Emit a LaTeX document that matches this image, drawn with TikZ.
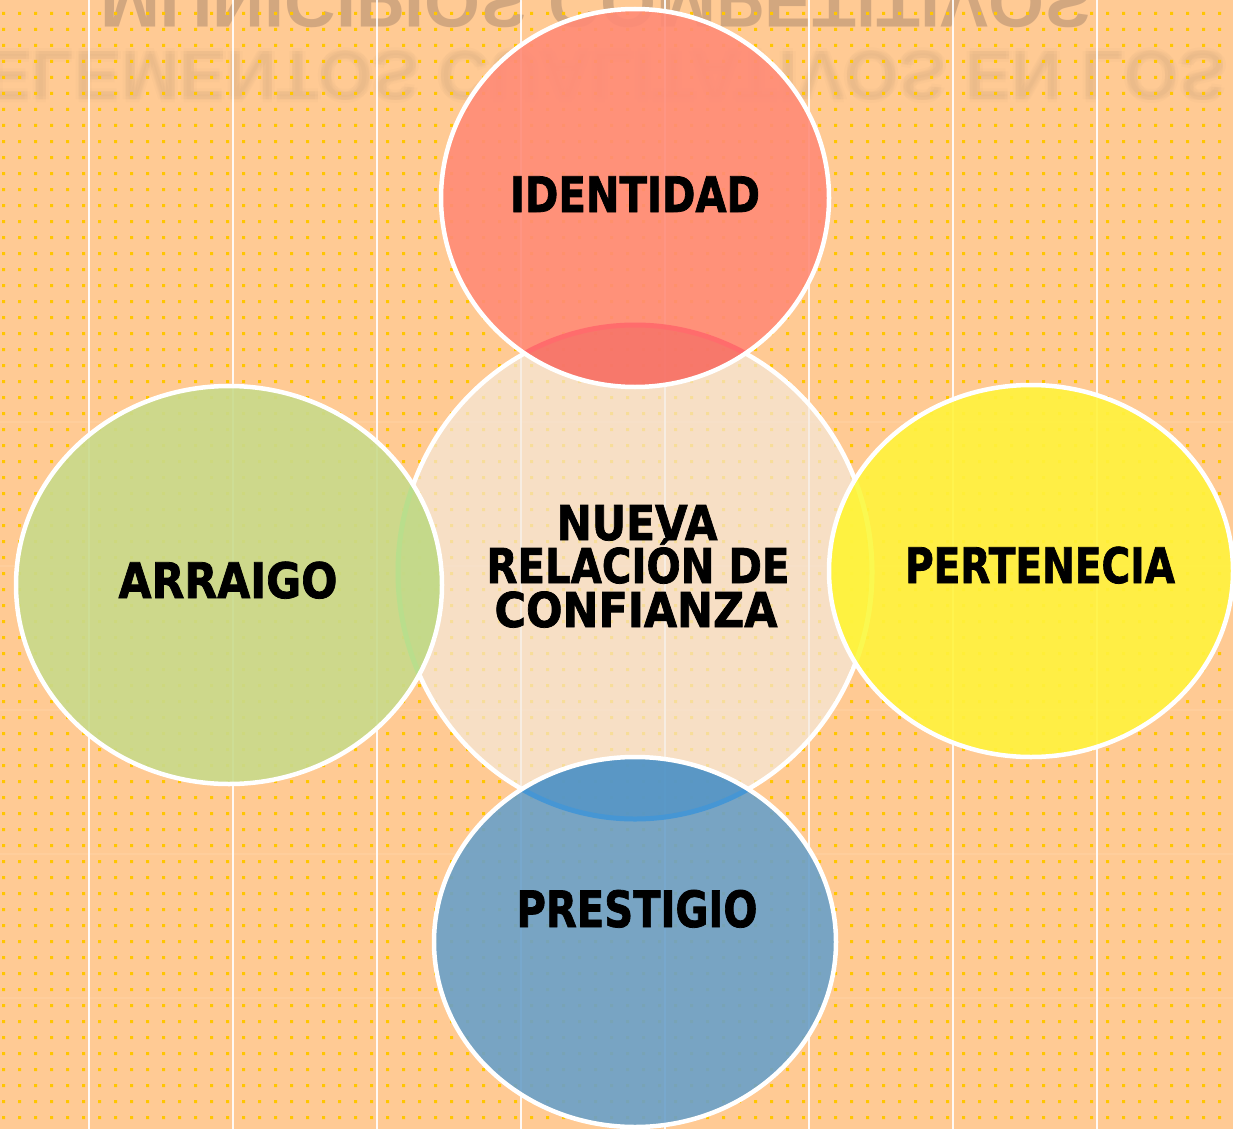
\documentclass[tikz,border=0pt]{standalone}
\usepackage{fontspec}
\newfontfamily\lblfont{DejaVu Sans}[BoldFeatures={FakeBold=1.6}]
\newfontfamily\wmfont{Liberation Sans}
\definecolor{bgc}{RGB}{255,202,148}
\definecolor{dotc}{RGB}{255,198,0}
\definecolor{wmc}{RGB}{150,120,100}
\definecolor{centc}{RGB}{244,232,219}
\definecolor{redc}{RGB}{255,139,119}
\definecolor{redov}{RGB}{247,109,98}
\definecolor{redarc}{RGB}{255,108,108}
\definecolor{greenc}{RGB}{200,218,139}
\definecolor{greenov}{RGB}{191,217,132}
\definecolor{greenarc}{RGB}{185,222,140}
\definecolor{yelc}{RGB}{255,243,61}
\definecolor{yelov}{RGB}{255,245,51}
\definecolor{yelarc}{RGB}{250,248,80}
\definecolor{bluec}{RGB}{106,160,201}
\definecolor{blueov}{RGB}{73,144,198}
\definecolor{bluearc}{RGB}{70,150,212}
\newcommand{\lbl}[3]{\resizebox{#1pt}{\height}{\fontsize{#2}{#2}\selectfont\lblfont\bfseries #3}}
\newcommand{\petal}[6]{%
  \begin{scope}
    \clip (#1) ellipse [x radius=#2, y radius=#3];
    \fill[#4, opacity=0.9, even odd rule] (#1) ellipse [x radius=#2, y radius=#3] (cC) ellipse [x radius=237, y radius=247];
    \fill[#5, opacity=0.9] (cC) ellipse [x radius=237, y radius=247];
    \draw[#6, line width=5] (cC) ellipse [x radius=237, y radius=247];
  \end{scope}
  \draw[white, line width=4.5] (#1) ellipse [x radius=#2, y radius=#3];}
\tikzset{
  lbl/.style={anchor=base, inner sep=0pt, text=black},
  wm/.style={anchor=base west, inner sep=0pt, text=wmc},
  vline/.style={white, line width=2, opacity=0.9},
  hline/.style={white, line width=1.5, opacity=0.08}
}
\begin{document}
\begin{tikzpicture}[x=1pt,y=-1pt]
\useasboundingbox (0,0) rectangle (1233,1129);
\clip (0,0) rectangle (1233,1129);
\fill[bgc] (0,0) rectangle (1233,1129);
% reflected title (watermark)
\node[wm, opacity=0.42] (wmA) at (100,-22) {\scalebox{1}[-1]{\fontsize{72}{72}\selectfont\wmfont\bfseries MUNICIPIOS COMPETITIVOS}};
\foreach \dx/\dy in {-3/0, 3/0, 0/-3, 0/3} {
  \node[wm, opacity=0.035] at (-15+\dx,52+\dy) {\scalebox{1}[-1]{\fontsize{70}{70}\selectfont\wmfont\bfseries ELEMENTOS CUALITATIVOS EN LOS}};
}
\node[wm, opacity=0.04] (wmB) at (-15,52) {\scalebox{1}[-1]{\fontsize{70}{70}\selectfont\wmfont\bfseries ELEMENTOS CUALITATIVOS EN LOS}};
% dot grid
\fill[dotc] foreach \i in {0,...,77} { foreach \j in {0,...,70} { (2+16*\i, 12+16*\j) rectangle ++(3,3) } };
% grid lines
\foreach \x in {89,233,...,1097} { \draw[vline] (\x,0) -- (\x,1129); }
\foreach \y in {422,566,...,1000} { \draw[hline] (0,\y) -- (1233,\y); }
% centers
\coordinate (cC) at (635,572);
\coordinate (cR) at (635,198);
\coordinate (cG) at (229,585);
\coordinate (cY) at (1031,571);
\coordinate (cB) at (635,942);
% center ellipse
\fill[centc, opacity=0.7] (cC) ellipse [x radius=237, y radius=247];
\draw[white, line width=4.5] (cC) ellipse [x radius=237, y radius=247];
% outer ellipses
\petal{cR}{194}{189}{redc}{redov}{redarc}
\petal{cG}{213}{199}{greenc}{greenov}{greenarc}
\petal{cY}{202}{186}{yelc}{yelov}{yelarc}
\petal{cB}{201}{185}{bluec}{blueov}{bluearc}
% labels
\node[lbl] (identidad) at (635,212) {\lbl{250}{49}{IDENTIDAD}};
\node[lbl] (arraigo) at (228,598) {\lbl{219}{49}{ARRAIGO}};
\node[lbl] (pertenecia) at (1040,583) {\lbl{270}{49}{PERTENECIA}};
\node[lbl] (prestigio) at (637,927) {\lbl{241}{50}{PRESTIGIO}};
\node[lbl] (nueva) at (637,540) {\lbl{161}{48}{NUEVA}};
\node[lbl] (relacion) at (638,583) {\lbl{303}{48}{RELACIÓN DE}};
\node[lbl] (confianza) at (636,627) {\lbl{283}{48}{CONFIANZA}};
\end{tikzpicture}
\end{document}
